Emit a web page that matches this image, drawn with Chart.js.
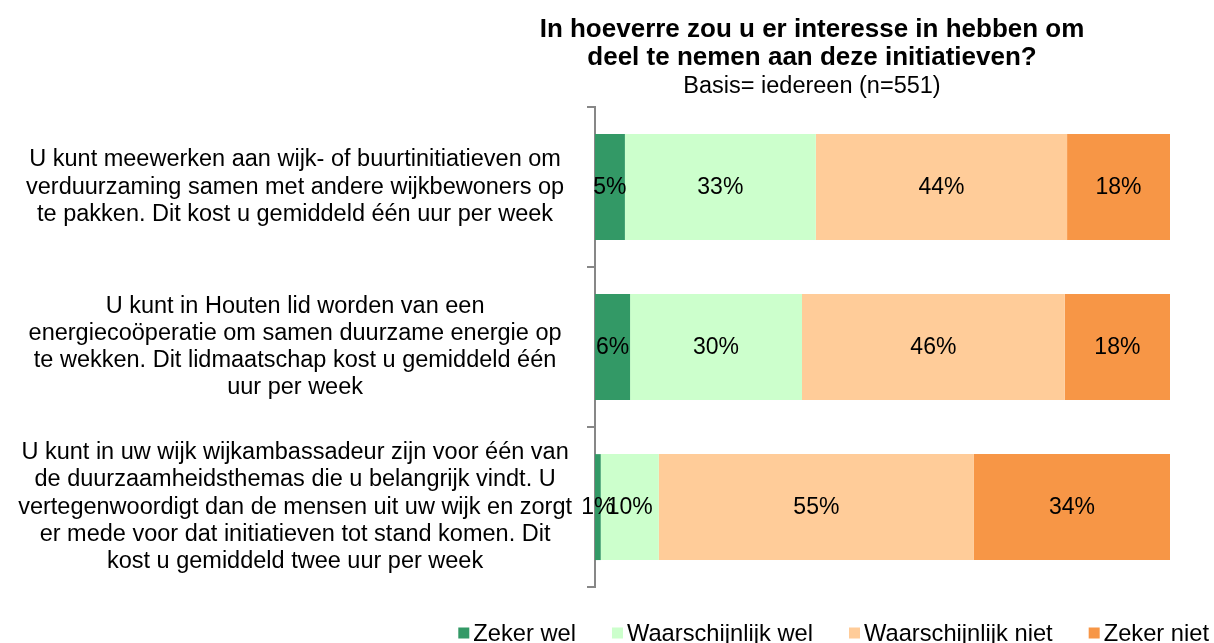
<!DOCTYPE html>
<html><head><meta charset="utf-8">
<script src="https://cdn.jsdelivr.net/npm/chart.js@4.4.1/dist/chart.umd.min.js"></script>
<style>html,body{margin:0;padding:0;background:#fff;}#wrap{width:1214px;height:643px;}</style>
</head><body><div id="wrap"><canvas id="c" width="1214" height="643"></canvas></div>
<script>
const categories = [
  ["U kunt meewerken aan wijk- of buurtinitiatieven om", "verduurzaming samen met andere wijkbewoners op", "te pakken. Dit kost u gemiddeld één uur per week"],
  ["U kunt in Houten lid worden van een", "energiecoöperatie om samen duurzame energie op", "te wekken. Dit lidmaatschap kost u gemiddeld één", "uur per week"],
  ["U kunt in uw wijk wijkambassadeur zijn voor één van", "de duurzaamheidsthemas die u belangrijk vindt. U", "vertegenwoordigt dan de mensen uit uw wijk en zorgt", "er mede voor dat initiatieven tot stand komen. Dit", "kost u gemiddeld twee uur per week"]
];
const seriesNames = ["Zeker wel", "Waarschijnlijk wel", "Waarschijnlijk niet", "Zeker niet"];
const zekerWel = [5.2, 6.1, 1.0];
const waarschijnlijkWel = [33.2, 29.9, 10.1];
const waarschijnlijkNiet = [43.7, 45.7, 54.8];
const zekerNiet = [17.9, 18.3, 34.1];
const seriesColors = ["#339966", "#CCFFCC", "#FFCC99", "#F79646"];
const titleLines = ["In hoeverre zou u er interesse in hebben om", "deel te nemen aan deze initiatieven?"];
const subtitleText = "Basis= iedereen (n=551)";

const FONT = "'Liberation Sans', Arial, Helvetica, sans-serif";
Chart.defaults.font.family = FONT;
Chart.defaults.color = "#000";

const dataLabels = {
  id: "dataLabels",
  afterDatasetsDraw(chart) {
    const ctx = chart.ctx;
    ctx.save();
    ctx.font = "23px " + FONT;
    ctx.fillStyle = "#000";
    ctx.textAlign = "center";
    ctx.textBaseline = "middle";
    chart.data.datasets.forEach((ds, di) => {
      const meta = chart.getDatasetMeta(di);
      meta.data.forEach((el, i) => {
        const v = ds.data[i];
        const cx = (el.x + el.base) / 2;
        ctx.fillText(Math.round(v) + "%", cx, el.y + 1);
      });
    });
    ctx.restore();
  }
};

const titleDraw = {
  id: "titleDraw",
  afterDraw(chart) {
    const ctx = chart.ctx;
    ctx.save();
    ctx.fillStyle = "#000";
    ctx.textAlign = "center";
    ctx.textBaseline = "middle";
    const cx = 812;
    ctx.font = "bold 26px " + FONT;
    titleLines.forEach((t, i) => ctx.fillText(t, cx, 30 + i * 28));
    ctx.font = "23.5px " + FONT;
    ctx.fillText(subtitleText, cx, 87);
    ctx.restore();
  }
};

const customLegend = {
  id: "customLegend",
  afterDraw(chart) {
    const ctx = chart.ctx;
    ctx.save();
    ctx.font = "23.7px " + FONT;
    ctx.textBaseline = "middle";
    ctx.textAlign = "left";
    const box = 11, gapBox = 4, gapItem = 36, rightEnd = 1209, cy = 633;
    const items = chart.data.datasets.map(d => ({label: d.label, color: d.backgroundColor, w: ctx.measureText(d.label).width}));
    let total = items.reduce((s, it) => s + box + gapBox + it.w, 0) + gapItem * (items.length - 1);
    let x = rightEnd - total;
    items.forEach(it => {
      ctx.fillStyle = it.color;
      ctx.fillRect(x, cy - box / 2, box, box);
      ctx.fillStyle = "#000";
      ctx.fillText(it.label, x + box + gapBox, cy + 1);
      x += box + gapBox + it.w + gapItem;
    });
    ctx.restore();
  }
};

const seriesData = [zekerWel, waarschijnlijkWel, waarschijnlijkNiet, zekerNiet];

new Chart(document.getElementById("c"), {
  type: "bar",
  data: {
    labels: categories,
    datasets: seriesNames.map((n, i) => ({
      label: n,
      data: seriesData[i],
      backgroundColor: seriesColors[i],
      borderWidth: 0,
      barPercentage: 0.662,
      categoryPercentage: 1
    }))
  },
  options: {
    indexAxis: "y",
    responsive: false,
    animation: false,
    layout: {padding: {left: 0, right: 44, top: 107, bottom: 51}},
    scales: {
      x: {stacked: true, min: 0, max: 100, display: false},
      y: {
        stacked: true,
        grid: {display: true, drawOnChartArea: false, drawTicks: true, tickLength: 8, offset: true, color: "#878787", lineWidth: 2},
        border: {display: true, color: "#878787", width: 2},
        ticks: {font: {size: 23.5, lineHeight: 1.16}, color: "#000", padding: 15, crossAlign: "center", autoSkip: false},
        afterFit(s) { s.width = 595; }
      }
    },
    plugins: {
      legend: {display: false},
      tooltip: {enabled: false},
      title: {display: false},
      subtitle: {display: false}
    }
  },
  plugins: [dataLabels, titleDraw, customLegend]
});
</script></body></html>
